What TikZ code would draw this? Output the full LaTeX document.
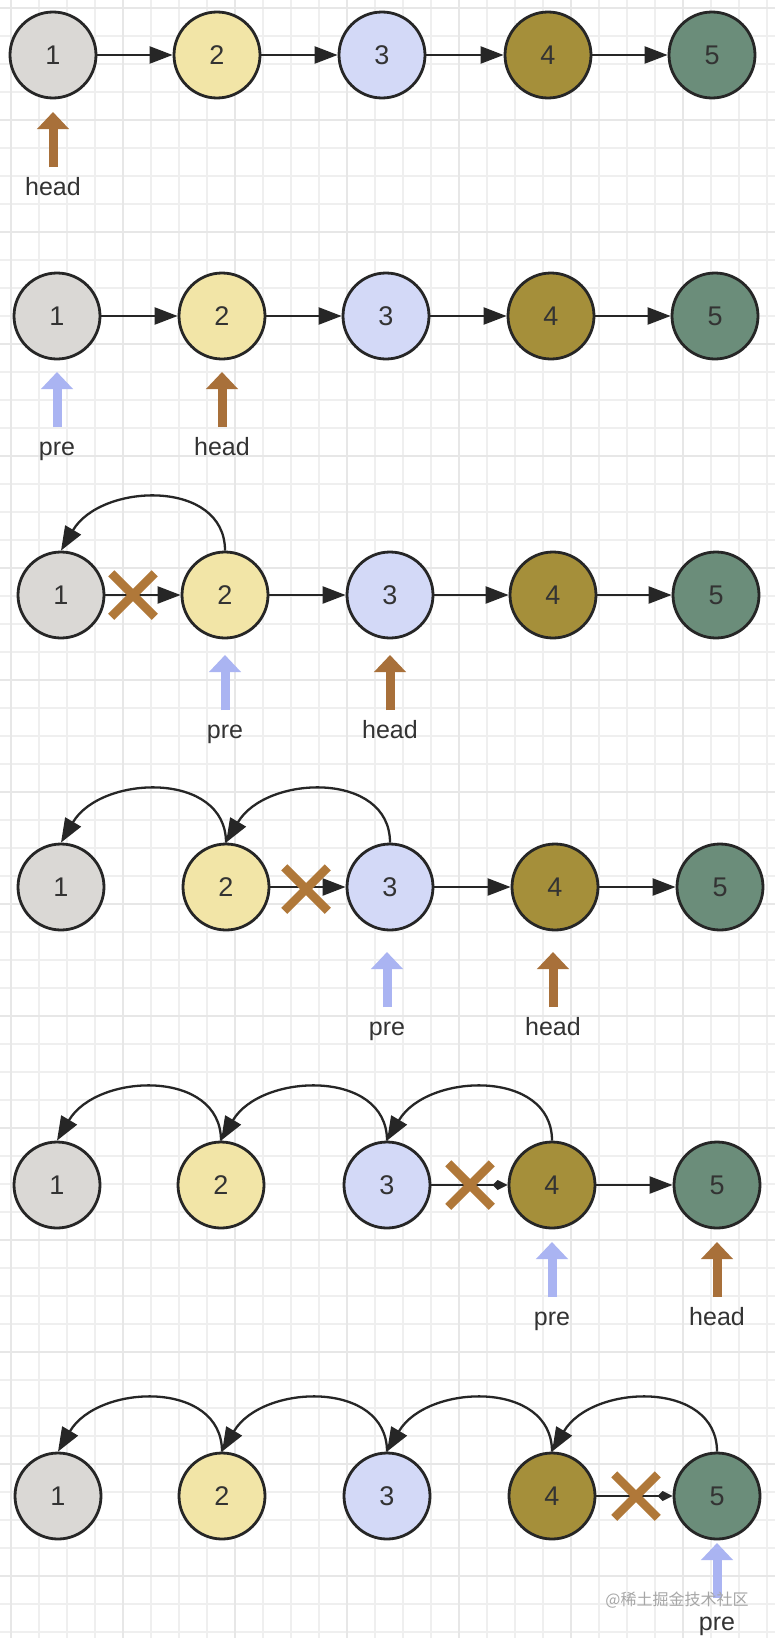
\documentclass[tikz,border=0pt]{standalone}
\usepackage{fontspec}
\setmainfont{Liberation Sans}
\newfontfamily\cjkfont{Noto Sans CJK SC}
\usetikzlibrary{arrows.meta,shapes.misc}
\definecolor{cA}{HTML}{DAD8D5}
\definecolor{cB}{HTML}{F2E5A7}
\definecolor{cC}{HTML}{D3D9F7}
\definecolor{cD}{HTML}{A58F3A}
\definecolor{cE}{HTML}{6B8D7A}
\definecolor{edgec}{HTML}{262626}
\definecolor{txtc}{HTML}{333333}
\definecolor{headc}{HTML}{A8703A}
\definecolor{prec}{HTML}{AAB4F2}
\definecolor{crossc}{HTML}{B07839}
\definecolor{gridminor}{HTML}{EFEFEF}
\definecolor{gridmajor}{HTML}{E7E7E7}
\newcommand\llrow[7]{%
 \node[ln,fill=cA] (#1a) at (#3,#2) {1};
 \node[ln,fill=cB] (#1b) at (#4,#2) {2};
 \node[ln,fill=cC] (#1c) at (#5,#2) {3};
 \node[ln,fill=cD] (#1d) at (#6,#2) {4};
 \node[ln,fill=cE] (#1e) at (#7,#2) {5};}
\newcommand\pointer[6]{%
 \coordinate (#1s) at (#2,#3);
 \coordinate (#1t) at (#2,#3-55);
 \draw[#5] (#1s) -- (#1t);
 \node[lab,anchor=base] (#1l) at (#2,#3+#6) {#4};}
\begin{document}
\begin{tikzpicture}[x=1pt,y=-1pt,
 ln/.style={circle,draw=edgec,line width=2.8pt,minimum size=86pt,inner sep=0pt,
   font=\fontsize{27}{27}\selectfont,text=txtc},
 nxt/.style={draw=edgec,line width=2.3pt,-{Triangle[length=23pt,width=17pt]}},
 cut/.style={draw=edgec,line width=2.3pt,-{Kite[length=15pt,width=10pt,inset=5pt]}},
 back/.style={draw=edgec,line width=2.3pt,-{Triangle[length=24pt,width=18pt]}},
 ptrH/.style={draw=headc,line width=9pt,-{Triangle[length=17pt,width=31pt]}},
 ptrP/.style={draw=prec,line width=9pt,-{Triangle[length=17pt,width=31pt]}},
 lab/.style={font=\fontsize{25}{25}\selectfont,text=txtc,inner sep=0pt},
 xmark/.style={cross out,draw=crossc,line width=8.5pt,minimum size=35pt,inner sep=0pt},
 gmin/.style={draw=gridminor,line width=1.3pt},
 gmaj/.style={draw=gridmajor,line width=1.6pt}]
\useasboundingbox (0,0) rectangle (775,1638);
\fill[white] (0,0) rectangle (775,1638);
% grid
\foreach \i in {0,...,28} {\draw[gmin] (\i*28-17,0) -- (\i*28-17,1638);}
\foreach \i in {0,...,59} {\draw[gmin] (0,\i*28-20) -- (775,\i*28-20);}
\foreach \i in {0,...,6} {\draw[gmaj] (\i*112+11,0) -- (\i*112+11,1638);}
\foreach \i in {0,...,14} {\draw[gmaj] (0,\i*112+8) -- (775,\i*112+8);}
% row 1
\llrow{r1}{55}{53}{217}{382}{548}{712}
\draw[nxt] (r1a) -- (r1b);
\draw[nxt] (r1b) -- (r1c);
\draw[nxt] (r1c) -- (r1d);
\draw[nxt] (r1d) -- (r1e);
\pointer{h1}{53}{167}{head}{ptrH}{28}
% row 2
\llrow{r2}{316}{57}{222}{386}{551}{715}
\draw[nxt] (r2a) -- (r2b);
\draw[nxt] (r2b) -- (r2c);
\draw[nxt] (r2c) -- (r2d);
\draw[nxt] (r2d) -- (r2e);
\pointer{p2}{57}{427}{pre}{ptrP}{28}
\pointer{h2}{222}{427}{head}{ptrH}{28}
% row 3
\llrow{r3}{595}{61}{225}{390}{553}{716}
\draw[nxt] (r3a) -- (r3b);
\draw[nxt] (r3b) -- (r3c);
\draw[nxt] (r3c) -- (r3d);
\draw[nxt] (r3d) -- (r3e);
\draw[back] (r3b.north) .. controls +(0,-72) and +(40,-68) .. (r3a.north);
\node[xmark] (x3) at (133,595) {};
\pointer{p3}{225}{710}{pre}{ptrP}{28}
\pointer{h3}{390}{710}{head}{ptrH}{28}
% row 4
\llrow{r4}{887}{61}{226}{390}{555}{720}
\draw[nxt] (r4b) -- (r4c);
\draw[nxt] (r4c) -- (r4d);
\draw[nxt] (r4d) -- (r4e);
\draw[back] (r4b.north) .. controls +(0,-72) and +(40,-68) .. (r4a.north);
\draw[back] (r4c.north) .. controls +(0,-72) and +(40,-68) .. (r4b.north);
\node[xmark] (x4) at (306,889) {};
\pointer{p4}{387}{1007}{pre}{ptrP}{28}
\pointer{h4}{553}{1007}{head}{ptrH}{28}
% row 5
\llrow{r5}{1185}{57}{221}{387}{552}{717}
\draw[cut] (r5c) -- (r5d);
\draw[nxt] (r5d) -- (r5e);
\draw[back] (r5b.north) .. controls +(0,-72) and +(40,-68) .. (r5a.north);
\draw[back] (r5c.north) .. controls +(0,-72) and +(40,-68) .. (r5b.north);
\draw[back] (r5d.north) .. controls +(0,-72) and +(40,-68) .. (r5c.north);
\node[xmark] (x5) at (470,1185) {};
\pointer{p5}{552}{1297}{pre}{ptrP}{28}
\pointer{h5}{717}{1297}{head}{ptrH}{28}
% row 6
\llrow{r6}{1496}{58}{222}{387}{552}{717}
\draw[cut] (r6d) -- (r6e);
\draw[back] (r6b.north) .. controls +(0,-72) and +(40,-68) .. (r6a.north);
\draw[back] (r6c.north) .. controls +(0,-72) and +(40,-68) .. (r6b.north);
\draw[back] (r6d.north) .. controls +(0,-72) and +(40,-68) .. (r6c.north);
\draw[back] (r6e.north) .. controls +(0,-72) and +(40,-68) .. (r6d.north);
\node[xmark] (x6) at (636,1496) {};
\pointer{p6}{717}{1598}{pre}{ptrP}{32}
% watermark
\node[font=\cjkfont\fontsize{16}{16}\selectfont,text=black!35,anchor=base,inner sep=0pt] (wm) at (677,1605) {@稀土掘金技术社区};
\end{tikzpicture}
\end{document}
